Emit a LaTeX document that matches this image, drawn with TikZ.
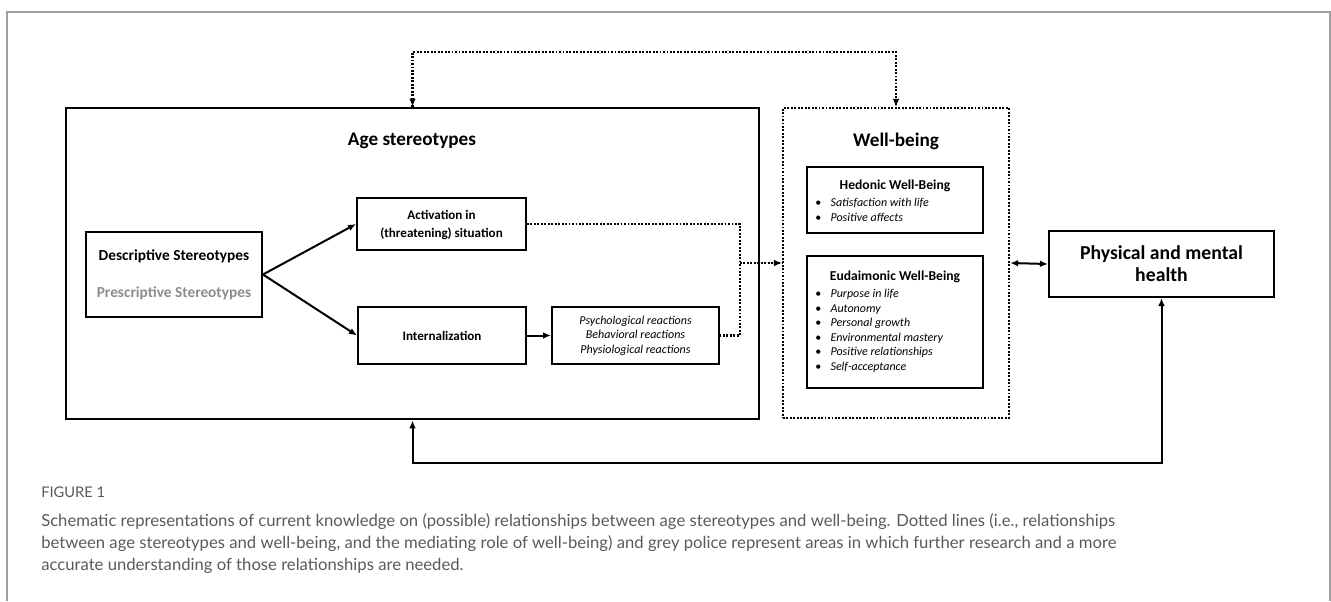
\documentclass[tikz,border=0pt]{standalone}
\usepackage{fontspec}
\setmainfont{Carlito}
\newfontfamily\capfont{Lato}
\usetikzlibrary{arrows.meta,fit}
\definecolor{framegrey}{HTML}{A0A0A0}
\definecolor{presgrey}{HTML}{8C8C8C}
\definecolor{capgrey}{HTML}{5A5A5A}
\begin{document}
\begin{tikzpicture}[x=0.75pt,y=-0.75pt,
  bx/.style={draw, line width=1.5pt, inner sep=0pt},
  bigbx/.style={draw, line width=2.2pt, inner sep=0pt},
  dotbx/.style={draw, line width=1.7pt, dash pattern=on 1.4pt off 1.2pt, inner sep=0pt},
  arr/.style={line width=1.5pt, -{Latex[length=6pt,width=5pt]}},
  darr/.style={line width=1.5pt, {Latex[length=6pt,width=5pt]}-{Latex[length=6pt,width=5pt]}},
  dotln/.style={line width=1.7pt, dash pattern=on 1.4pt off 1.2pt},
  title/.style={font=\fontsize{14.4}{17}\selectfont\bfseries},
  btxt/.style={font=\fontsize{9.8}{12}\selectfont\bfseries, align=center},
  itxt/.style={font=\fontsize{9}{11}\selectfont\itshape, align=center},
  subtitle/.style={font=\fontsize{10.2}{12}\selectfont\bfseries},
  blist/.style={font=\fontsize{9}{10.9}\selectfont, align=left, inner sep=0pt, anchor=north west},
  capline/.style={font=\capfont\fontsize{12.5}{15}\selectfont, text=capgrey, anchor=base west, inner sep=0pt}
]
\useasboundingbox (0,0) rectangle (1331,601);
% outer frame
\draw[framegrey, line width=1.2pt] (7,601) -- (7,12) -- (1330,12) -- (1330,601);

% main boxes
\node[bigbx, fit={(66,108) (759,419)}] (age) {};
\node[dotbx, fit={(783,108) (1009,418)}] (wb) {};
\node[title] (agetitle) at (412,141) {Age stereotypes};
\node[title] (wbtitle) at (896,141) {Well-being};

% stereotypes box
\node[bx, fit={(86,232) (262,317)}] (desc) {};
\node[font=\fontsize{11.5}{14}\selectfont\bfseries] (desct) at (174,256) {Descriptive Stereotypes};
\node[font=\fontsize{11.5}{14}\selectfont\bfseries, text=presgrey] (prest) at (174,293) {Prescriptive Stereotypes};

\node[bx, fit={(357,198) (526,250)}] (act) {};
\node[btxt, font=\fontsize{9.8}{14}\selectfont\bfseries] (actt) at (441.5,225) {Activation in\\(threatening) situation};
\node[bx, fit={(358,307) (526,364)}] (intl) {};
\node[btxt] (intlt) at (442,335.5) {Internalization};
\node[bx, fit={(552,307) (719,364)}] (react) {};
\node[itxt, font=\fontsize{9}{10.9}\selectfont\itshape] (reactt) at (635.5,335.5) {Psychological reactions\\Behavioral reactions\\Physiological reactions};

% well-being boxes
\node[bx, fit={(807,167) (983,233)}] (hed) {};
\node[subtitle] (hedt) at (895,186) {Hedonic Well-Being};
\node[blist] (hedl) at (815,198) {\textbullet\hspace{7pt}\textit{Satisfaction with life}\\\textbullet\hspace{7pt}\textit{Positive affects}};
\node[bx, fit={(807,256) (983,388)}] (eud) {};
\node[subtitle] (eudt) at (895,277) {Eudaimonic Well-Being};
\node[blist] (eudl) at (815,289) {\textbullet\hspace{7pt}\textit{Purpose in life}\\\textbullet\hspace{7pt}\textit{Autonomy}\\\textbullet\hspace{7pt}\textit{Personal growth}\\\textbullet\hspace{7pt}\textit{Environmental mastery}\\\textbullet\hspace{7pt}\textit{Positive relationships}\\\textbullet\hspace{7pt}\textit{Self-acceptance}};

% health box
\node[bx, fit={(1049,231) (1274,297)}] (phys) {};
\node[font=\fontsize{14.8}{16.5}\selectfont\bfseries, align=center] (physt) at (1161.5,264) {Physical and mental\\health};

% connectors
\draw[arr] (desc.east) -- (act.west);
\draw[arr] (desc.east) -- (intl.west);
\draw[arr] (intl.east) -- (react.west);

\coordinate (junc) at (740,263);
\draw[dotln] (act.east) -- (act.east -| junc) -- (react.east -| junc) -- (react.east);
\draw[dotln] (junc) -- (wb.west);
\draw[line width=1pt, -{Latex[length=6pt,width=5pt]}] ([xshift=-6pt]wb.west) -- (wb.west);

\coordinate (topc) at (650,52);
\draw[dotln] (age.north) |- (topc) -| (wb.north);
\draw[line width=1pt, -{Latex[length=6pt,width=5pt]}] ([yshift=6pt]age.north) -- (age.north);
\draw[line width=1pt, -{Latex[length=6pt,width=5pt]}] ([yshift=6pt]wb.north) -- (wb.north);

\draw[darr] (wb.east) -- (phys.west);

\coordinate (botc) at (800,463);
\draw[darr] (phys.south) |- (botc) -| (age.south);

% caption
\node[font=\capfont\fontsize{11}{13}\selectfont, text=capgrey, anchor=base west, inner sep=0pt] (fig) at (41,497) {FIGURE 1};
\node[capline] (cap1) at (41,526) {Schematic representations of current knowledge on (possible) relationships between age stereotypes and well-being. Dotted lines (i.e., relationships};
\node[capline] (cap2) at (41,548) {between age stereotypes and well-being, and the mediating role of well-being) and grey police represent areas in which further research and a more};
\node[capline] (cap3) at (41,570) {accurate understanding of those relationships are needed.};
\end{tikzpicture}
\end{document}
